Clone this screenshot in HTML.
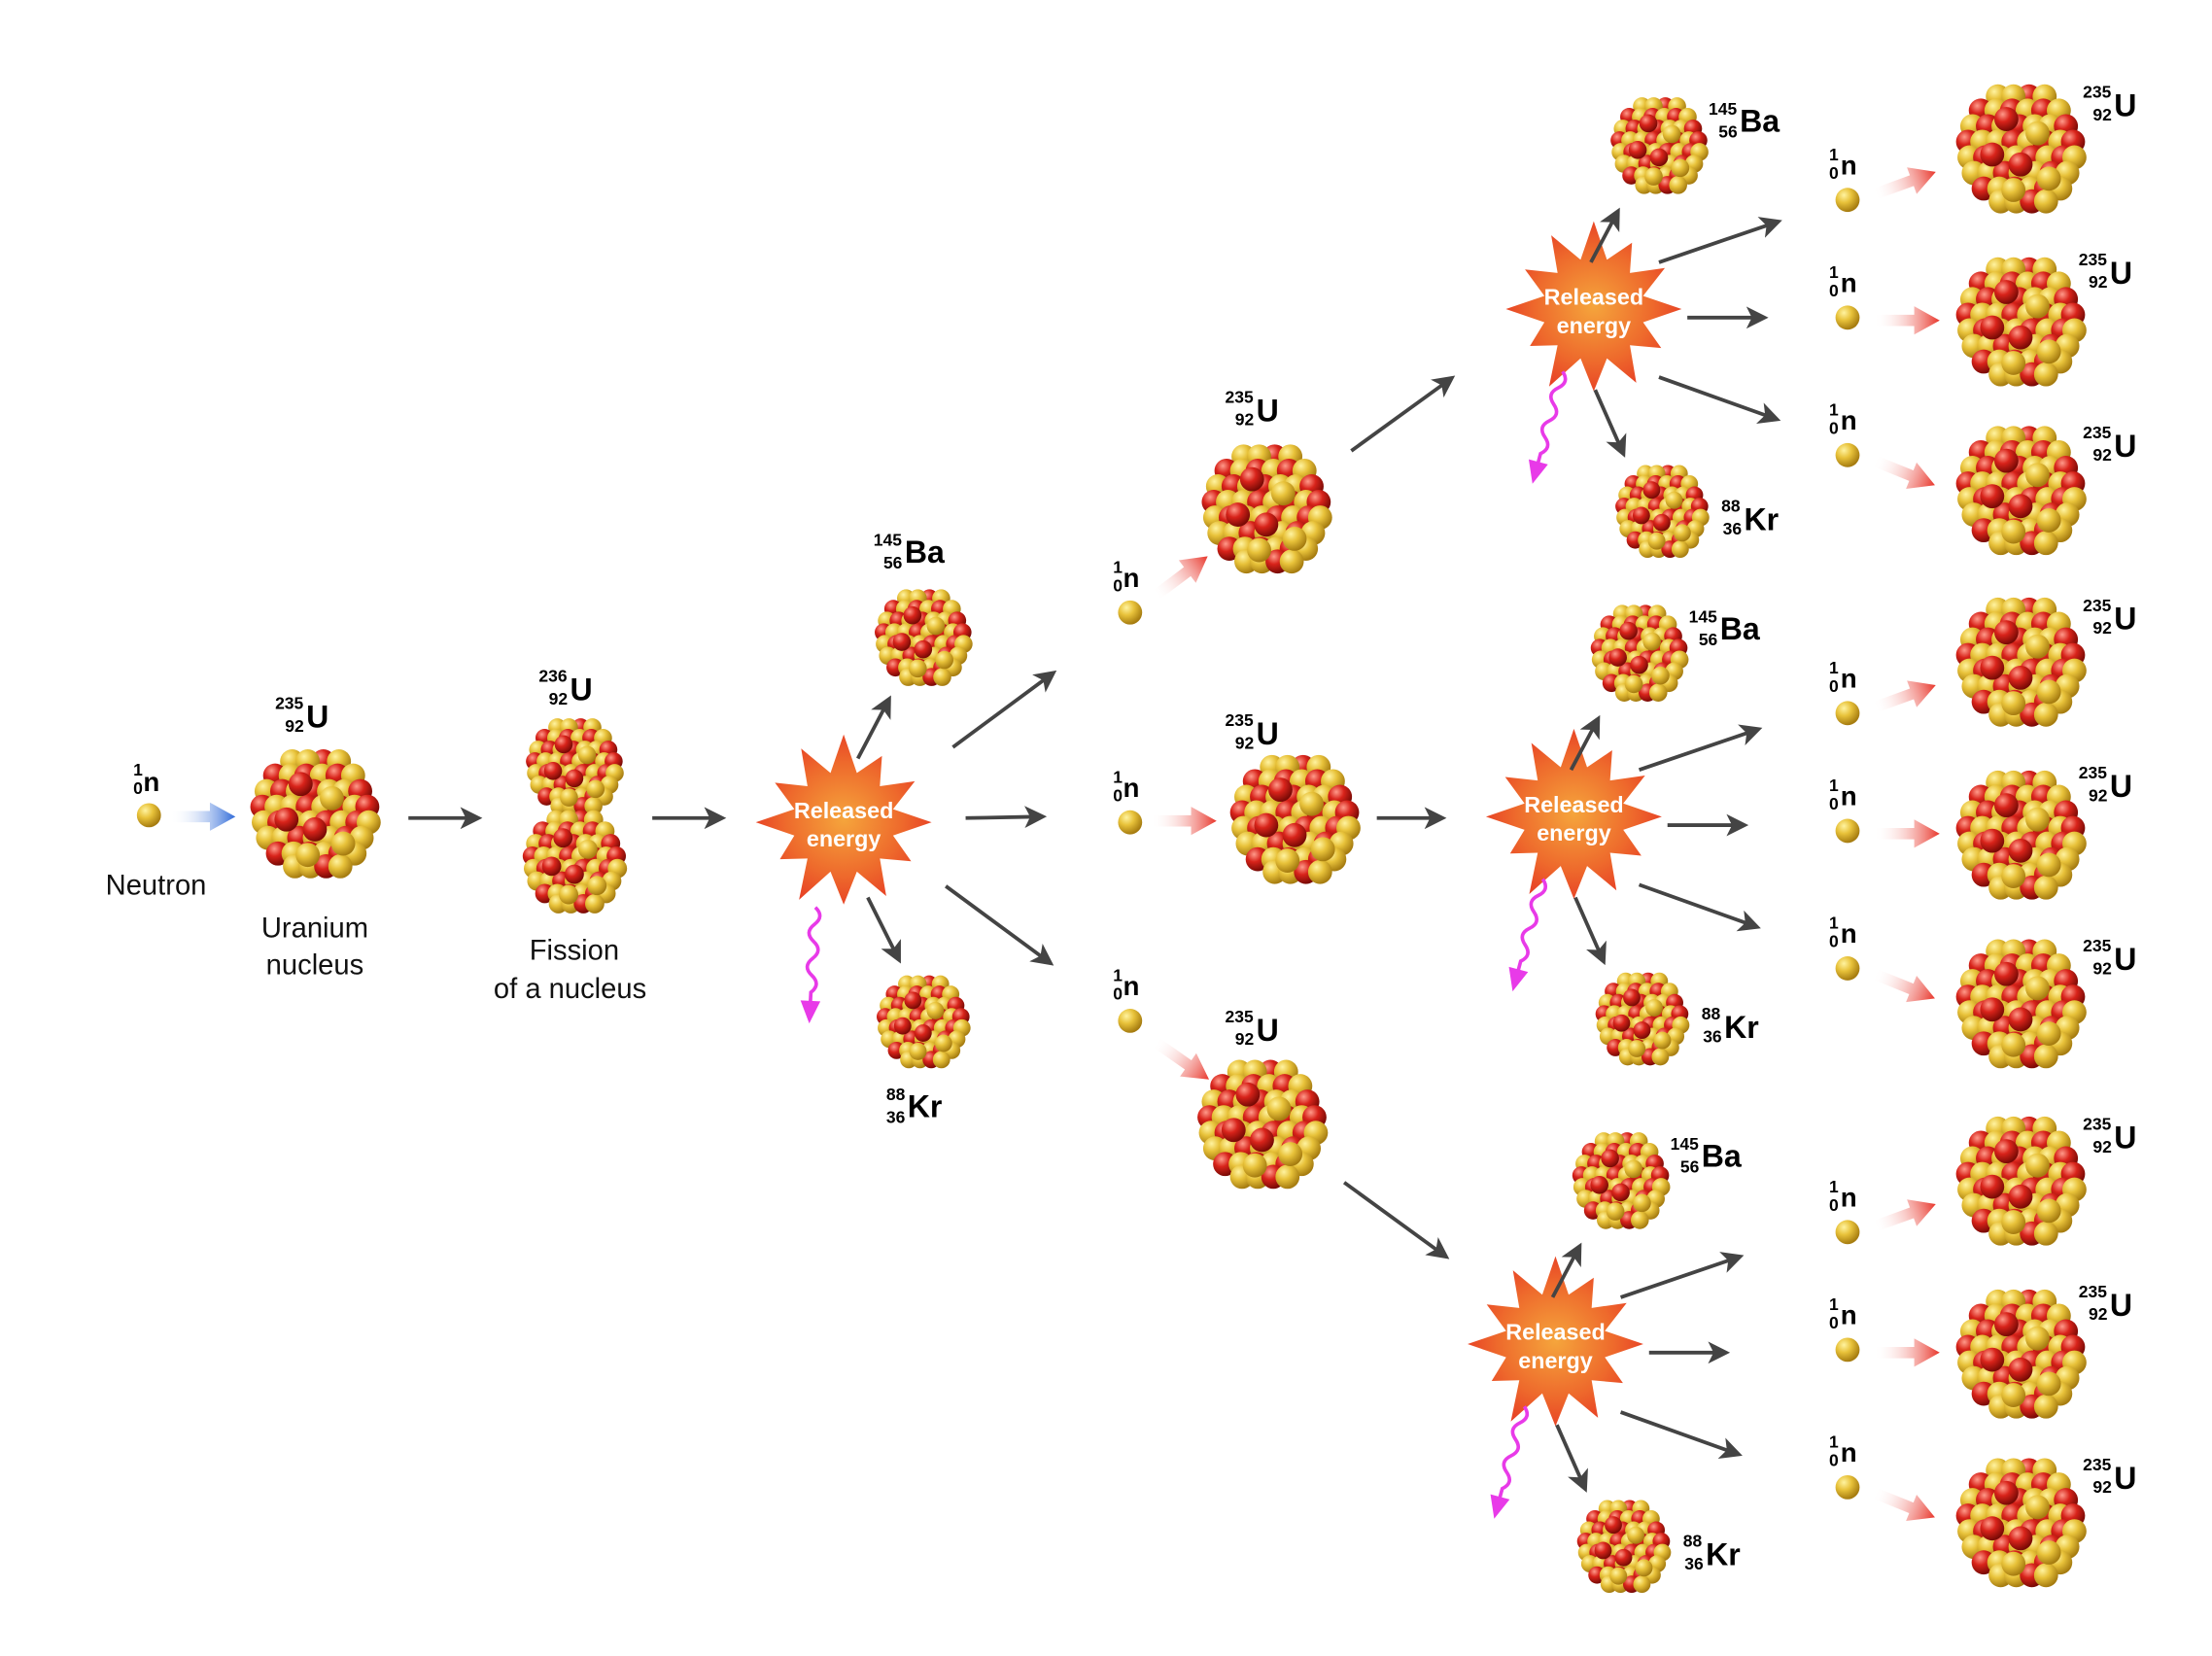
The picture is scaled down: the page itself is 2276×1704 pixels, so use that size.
<!DOCTYPE html>
<html><head><meta charset="utf-8"><style>
html,body{margin:0;padding:0;background:#fff}
svg{display:block}
text{font-family:"Liberation Sans",sans-serif}
.sup{font-size:12px;font-weight:bold}
.el{font-size:22px;font-weight:bold}
.lbl{font-size:20px;fill:#111}
.be{font-size:16px;font-weight:bold;fill:#fff}
.ar{stroke:#444;stroke-width:2.6;marker-end:url(#mh)}
</style></head><body>
<svg width="2276" height="1704" viewBox="0 0 1560 1168" xmlns="http://www.w3.org/2000/svg">
<defs>
<radialGradient id="gy" cx="35%" cy="30%" r="70%"><stop offset="0" stop-color="#fff3a0"/><stop offset=".45" stop-color="#e8c23a"/><stop offset="1" stop-color="#a67c10"/></radialGradient>
<radialGradient id="gr" cx="35%" cy="30%" r="70%"><stop offset="0" stop-color="#ff9a8a"/><stop offset=".45" stop-color="#d8231a"/><stop offset="1" stop-color="#7a0a05"/></radialGradient>
<radialGradient id="gs" cx="50%" cy="50%" r="55%"><stop offset="0" stop-color="#f5a53c"/><stop offset=".6" stop-color="#ee6a2c"/><stop offset="1" stop-color="#e63a24"/></radialGradient>
<linearGradient id="gra" x1="0" x2="1"><stop offset="0" stop-color="#fff" stop-opacity="0"/><stop offset="1" stop-color="#e8352a"/></linearGradient>
<linearGradient id="gba" x1="0" x2="1"><stop offset="0" stop-color="#fff" stop-opacity="0"/><stop offset="1" stop-color="#2f6ad8"/></linearGradient>
<marker id="mh" markerWidth="6" markerHeight="6" refX="4" refY="3" orient="auto" markerUnits="strokeWidth"><path d="M0 0 L6 3 L0 6 L1.5 3Z" fill="#444"/></marker>
<g id="N">
<g fill="url(#gy)">
<circle cx="-16" cy="-36" r="8.5"/><circle cx="6" cy="-36" r="8.5" fill="url(#gr)"/><circle cx="-5" cy="-36" r="8.5"/><circle cx="17" cy="-36" r="8.5"/>
<circle cx="-28" cy="-26" r="8.5" fill="url(#gr)"/><circle cx="-17" cy="-26" r="8.5"/><circle cx="-6" cy="-26" r="8.5" fill="url(#gr)"/><circle cx="5" cy="-26" r="8.5"/><circle cx="16" cy="-26" r="8.5" fill="url(#gr)"/><circle cx="27" cy="-26" r="8.5"/>
<circle cx="-34" cy="-15" r="8.5"/><circle cx="-23" cy="-15" r="8.5" fill="url(#gr)"/><circle cx="-12" cy="-15" r="8.5"/><circle cx="-1" cy="-15" r="8.5" fill="url(#gr)"/><circle cx="10" cy="-15" r="8.5"/><circle cx="21" cy="-15" r="8.5"/><circle cx="32" cy="-15" r="8.5" fill="url(#gr)"/>
<circle cx="-37" cy="-4" r="8.5" fill="url(#gr)"/><circle cx="-27" cy="-4" r="8.5"/><circle cx="-16" cy="-4" r="8.5"/><circle cx="-5" cy="-4" r="8.5" fill="url(#gr)"/><circle cx="6" cy="-4" r="8.5"/><circle cx="17" cy="-4" r="8.5" fill="url(#gr)"/><circle cx="28" cy="-4" r="8.5"/><circle cx="37" cy="-4" r="8.5" fill="url(#gr)"/>
<circle cx="-36" cy="7" r="8.5"/><circle cx="-25" cy="7" r="8.5" fill="url(#gr)"/><circle cx="-14" cy="7" r="8.5"/><circle cx="-3" cy="7" r="8.5"/><circle cx="8" cy="7" r="8.5" fill="url(#gr)"/><circle cx="19" cy="7" r="8.5"/><circle cx="30" cy="7" r="8.5" fill="url(#gr)"/><circle cx="38" cy="7" r="8.5"/>
<circle cx="-33" cy="18" r="8.5"/><circle cx="-22" cy="18" r="8.5"/><circle cx="-11" cy="18" r="8.5" fill="url(#gr)"/><circle cx="0" cy="18" r="8.5"/><circle cx="11" cy="18" r="8.5"/><circle cx="22" cy="18" r="8.5" fill="url(#gr)"/><circle cx="33" cy="18" r="8.5"/>
<circle cx="-26" cy="29" r="8.5" fill="url(#gr)"/><circle cx="-15" cy="29" r="8.5"/><circle cx="-4" cy="29" r="8.5" fill="url(#gr)"/><circle cx="7" cy="29" r="8.5"/><circle cx="18" cy="29" r="8.5" fill="url(#gr)"/><circle cx="28" cy="29" r="8.5"/>
<circle cx="-14" cy="38" r="8.5"/><circle cx="-3" cy="38" r="8.5"/><circle cx="8" cy="38" r="8.5" fill="url(#gr)"/><circle cx="18" cy="38" r="8.5"/>
<circle cx="-10" cy="-20" r="8.5" fill="url(#gr)"/><circle cx="12" cy="-10" r="8.5"/><circle cx="0" cy="12" r="8.5" fill="url(#gr)"/><circle cx="-20" cy="5" r="8.5" fill="url(#gr)"/><circle cx="20" cy="22" r="8.5"/><circle cx="-5" cy="30" r="8.5"/>
</g></g>
<g id="S"><polygon fill="url(#gs)" points="62,0 34.8,9.3 47.6,27.5 25.5,25.5 30,52 9.3,34.8 0,58 -9.3,34.8 -31.5,54.6 -25.5,25.5 -45,26 -34.8,9.3 -62,0 -34.8,-9.3 -48.5,-28 -25.5,-25.5 -30,-52 -9.3,-34.8 0,-62 9.3,-34.8 27,-46.8 25.5,-25.5 50.2,-29 34.8,-9.3"/>
<text class="be" x="0" y="-3" text-anchor="middle">Released</text><text class="be" x="0" y="17" text-anchor="middle">energy</text></g>
<g id="RA"><polygon fill="url(#gra)" points="0,-4 28,-4 28,-10 46,0 28,10 28,4 0,4"/></g>
<g id="W"><path d="M0 0 q7 6 0 12 q-7 6 0 12 q7 6 0 12 q-7 6 0 12 q7 6 0 12 l0 8" fill="none" stroke="#e83ae8" stroke-width="2.5"/><polygon points="-7,66 7,66 0,82" fill="#e83ae8"/></g>
<circle id="n" r="8.5" fill="url(#gy)"/>
</defs>

<!-- stage 1 -->
<use href="#n" x="105" y="575"/>
<text class="sup" x="94" y="547">1</text><text class="sup" x="94" y="560">0</text><text class="el" x="101" y="558" style="font-size:19px">n</text>
<text class="lbl" x="110" y="631" text-anchor="middle">Neutron</text>
<polygon fill="url(#gba)" points="120,-4 148,-4 148,-10 166,0 148,10 148,4 120,4" transform="translate(0,576)"/>
<use href="#N" transform="translate(222,573)"/>
<text class="sup" x="194" y="500">235</text><text class="sup" x="201" y="516">92</text><text class="el" x="216" y="513">U</text>
<text class="lbl" x="222" y="661" text-anchor="middle">Uranium</text><text class="lbl" x="222" y="687" text-anchor="middle">nucleus</text>
<line class="ar" x1="288" y1="577" x2="335" y2="577"/>
<use href="#N" transform="translate(405,540) scale(.75)"/>
<use href="#N" transform="translate(405,607) scale(.8)"/>
<text class="sup" x="380" y="481">236</text><text class="sup" x="387" y="497">92</text><text class="el" x="402" y="494">U</text>
<text class="lbl" x="405" y="677" text-anchor="middle">Fission</text><text class="lbl" x="402" y="704" text-anchor="middle">of a nucleus</text>
<line class="ar" x1="460" y1="577" x2="507" y2="577"/>
<use href="#S" transform="translate(595,580)"/>
<line class="ar" x1="605" y1="535" x2="626" y2="495"/>
<line class="ar" x1="612" y1="633" x2="633" y2="675"/>
<use href="#N" transform="translate(651,449) scale(.75)"/>
<text class="sup" x="616" y="385">145</text><text class="sup" x="623" y="401">56</text><text class="el" x="638" y="397">Ba</text>
<use href="#N" transform="translate(651,720) scale(.72)"/>
<text class="sup" x="625" y="776">88</text><text class="sup" x="625" y="792">36</text><text class="el" x="640" y="788">Kr</text>
<use href="#W" transform="translate(575,640) rotate(3)"/>
<line class="ar" x1="672" y1="527" x2="741" y2="476"/>
<line class="ar" x1="681" y1="577" x2="733" y2="576"/>
<line class="ar" x1="667" y1="625" x2="739" y2="678"/>

<!-- stage 2 -->
<g>
<use href="#n" x="797" y="432"/><text class="sup" x="785" y="404">1</text><text class="sup" x="785" y="417">0</text><text class="el" x="792" y="414" style="font-size:19px">n</text>
<use href="#n" x="797" y="580"/><text class="sup" x="785" y="552">1</text><text class="sup" x="785" y="565">0</text><text class="el" x="792" y="562" style="font-size:19px">n</text>
<use href="#n" x="797" y="720"/><text class="sup" x="785" y="692">1</text><text class="sup" x="785" y="705">0</text><text class="el" x="792" y="702" style="font-size:19px">n</text>
<use href="#RA" transform="translate(815,420) rotate(-37)"/>
<use href="#RA" transform="translate(812,579)"/>
<use href="#RA" transform="translate(815,735) rotate(35)"/>
<use href="#N" transform="translate(893,358)"/>
<text class="sup" x="864" y="284">235</text><text class="sup" x="871" y="300">92</text><text class="el" x="886" y="297">U</text>
<use href="#N" transform="translate(913,577)"/>
<text class="sup" x="864" y="512">235</text><text class="sup" x="871" y="528">92</text><text class="el" x="886" y="525">U</text>
<use href="#N" transform="translate(890,792)"/>
<text class="sup" x="864" y="721">235</text><text class="sup" x="871" y="737">92</text><text class="el" x="886" y="734">U</text>
<line class="ar" x1="953" y1="318" x2="1022" y2="268"/>
<line class="ar" x1="971" y1="577" x2="1015" y2="577"/>
<line class="ar" x1="948" y1="834" x2="1018" y2="885"/>
</g>

<!-- stage 3: fission part (shifted per group) -->
<g id="GA">
<use href="#S" transform="translate(1124,218)"/>
<use href="#W" transform="translate(1102,262) rotate(15)"/>
<line class="ar" x1="1122" y1="185" x2="1140" y2="151"/>
<line class="ar" x1="1125" y1="275" x2="1144" y2="318"/>
<use href="#N" transform="translate(1170,102) scale(.75)"/>
<text class="sup" x="1205" y="81">145</text><text class="sup" x="1212" y="97">56</text><text class="el" x="1227" y="93">Ba</text>
<use href="#N" transform="translate(1172,360) scale(.72)"/>
<text class="sup" x="1214" y="361">88</text><text class="sup" x="1215" y="377">36</text><text class="el" x="1230" y="374">Kr</text>
<line class="ar" x1="1170" y1="185" x2="1252" y2="157"/>
<line class="ar" x1="1190" y1="224" x2="1242" y2="224"/>
<line class="ar" x1="1170" y1="266" x2="1251" y2="295"/>
</g>
<use href="#GA" transform="translate(-14,358)"/>
<use href="#GA" transform="translate(-27,730)"/>

<!-- stage 3: neutrons + U (fixed columns) -->
<g id="GB">
<use href="#n" x="1303" y="141"/><text class="sup" x="1290" y="113">1</text><text class="sup" x="1290" y="126">0</text><text class="el" x="1298" y="123" style="font-size:19px">n</text>
<use href="#n" x="1303" y="224"/><text class="sup" x="1290" y="196">1</text><text class="sup" x="1290" y="209">0</text><text class="el" x="1298" y="206" style="font-size:19px">n</text>
<use href="#n" x="1303" y="321"/><text class="sup" x="1290" y="293">1</text><text class="sup" x="1290" y="306">0</text><text class="el" x="1298" y="303" style="font-size:19px">n</text>
<use href="#RA" transform="translate(1322,137) rotate(-20)"/>
<use href="#RA" transform="translate(1322,226)"/>
<use href="#RA" transform="translate(1322,325) rotate(22)"/>
<use href="#N" transform="translate(1425,104)"/>
<text class="sup" x="1469" y="69">235</text><text class="sup" x="1476" y="85">92</text><text class="el" x="1491" y="82">U</text>
<use href="#N" transform="translate(1425,226)"/>
<text class="sup" x="1466" y="187">235</text><text class="sup" x="1473" y="203">92</text><text class="el" x="1488" y="200">U</text>
<use href="#N" transform="translate(1425,345)"/>
<text class="sup" x="1469" y="309">235</text><text class="sup" x="1476" y="325">92</text><text class="el" x="1491" y="322">U</text>
</g>
<use href="#GB" transform="translate(0,362)"/>
<use href="#GB" transform="translate(0,728)"/>
</svg>
</body></html>
